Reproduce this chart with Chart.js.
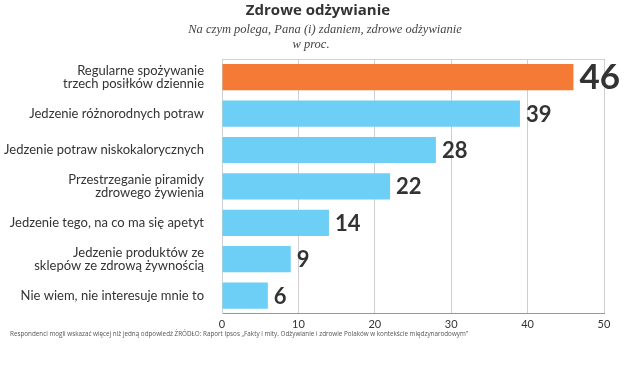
<!DOCTYPE html>
<html>
<head>
<meta charset="utf-8">
<script src="https://cdn.jsdelivr.net/npm/chart.js@4"></script>
<style>
  html, body { margin: 0; padding: 0; background: #fff; }
</style>
</head>
<body>
<canvas id="chart" width="640" height="365"></canvas>
<script>
const categories = [
    ['Regularne spożywanie', 'trzech posiłków dziennie'],
    'Jedzenie różnorodnych potraw',
    'Jedzenie potraw niskokalorycznych',
    ['Przestrzeganie piramidy', 'zdrowego żywienia'],
    'Jedzenie tego, na co ma się apetyt',
    ['Jedzenie produktów ze', 'sklepów ze zdrową żywnością'],
    'Nie wiem, nie interesuje mnie to'
];
const values = [46, 39, 28, 22, 14, 9, 6];
const xTicks = [0, 10, 20, 30, 40, 50];

const title = 'Zdrowe odżywianie';
const subtitle = ['Na czym polega, Pana (i) zdaniem, zdrowe odżywianie', 'w proc.'];
const footnote = 'Respondenci mogli wskazać więcej niż jedną odpowiedź ŹRÓDŁO: Raport Ipsos „Fakty i mity. Odżywianie i zdrowie Polaków w kontekście międzynarodowym”';

const orange = '#f47a36';
const blue = '#6dcff6';

// value labels at the end of each bar, the first one bigger
const valueLabels = {
    id: 'valueLabels',
    afterDatasetsDraw(chart) {
        const ctx = chart.ctx;
        const meta = chart.getDatasetMeta(0);
        ctx.save();
        ctx.fillStyle = '#333';
        ctx.textBaseline = 'middle';
        ctx.textAlign = 'left';
        meta.data.forEach((bar, i) => {
            const size = i === 0 ? 35 : 22;
            ctx.font = `bold ${size}px Lato, sans-serif`;
            ctx.fillText(values[i], bar.x + 6, bar.y + 1);
        });
        ctx.restore();
    }
};

// header, top frame line and footnote
const extras = {
    id: 'extras',
    beforeDatasetsDraw(chart) {
        const { ctx, chartArea } = chart;
        ctx.save();
        ctx.strokeStyle = '#d0d0d0';
        ctx.lineWidth = 1;
        ctx.beginPath();
        ctx.moveTo(chartArea.left, chartArea.top + 0.5);
        ctx.lineTo(chartArea.right, chartArea.top + 0.5);
        ctx.stroke();
        ctx.restore();
    },
    afterDraw(chart) {
        const ctx = chart.ctx;
        ctx.save();
        ctx.fillStyle = '#333';
        ctx.textAlign = 'center';
        ctx.textBaseline = 'middle';
        ctx.font = 'bold 15px "Open Sans", sans-serif';
        ctx.fillText(title, 318, 11);
        ctx.font = 'italic 12.5px "Liberation Serif", serif';
        ctx.fillStyle = '#444';
        ctx.fillText(subtitle[0], 325, 30);
        ctx.fillText(subtitle[1], 311, 45);
        ctx.textAlign = 'left';
        ctx.font = '6.3px "Open Sans", sans-serif';
        ctx.fillStyle = '#555';
        ctx.fillText(footnote, 10, 334);
        ctx.restore();
    }
};

new Chart(document.getElementById('chart'), {
    type: 'bar',
    data: {
        labels: categories,
        datasets: [{
            data: values,
            backgroundColor: values.map((v, i) => i === 0 ? orange : blue),
            barPercentage: 0.72,
            categoryPercentage: 1
        }]
    },
    options: {
        indexAxis: 'y',
        responsive: false,
        animation: false,
        layout: { padding: { top: 59, right: 36, bottom: 30, left: 0 } },
        plugins: {
            legend: { display: false },
            tooltip: { enabled: false }
        },
        scales: {
            x: {
                min: 0,
                max: 50,
                afterBuildTicks(scale) {
                    scale.ticks = xTicks.map(v => ({ value: v }));
                },
                grid: { color: '#cfcfcf', drawTicks: false },
                border: { color: '#999' },
                ticks: {
                    color: '#333',
                    padding: 4,
                    maxRotation: 0,
                    font: { family: 'Lato, sans-serif', size: 11 }
                }
            },
            y: {
                afterFit(scale) { scale.width = 222; },
                grid: { display: false },
                border: { color: '#cfcfcf' },
                ticks: {
                    color: '#333',
                    padding: 10,
                    font: { family: 'Lato, sans-serif', size: 13, lineHeight: 1.05 }
                }
            }
        }
    },
    plugins: [valueLabels, extras]
});
</script>
</body>
</html>
